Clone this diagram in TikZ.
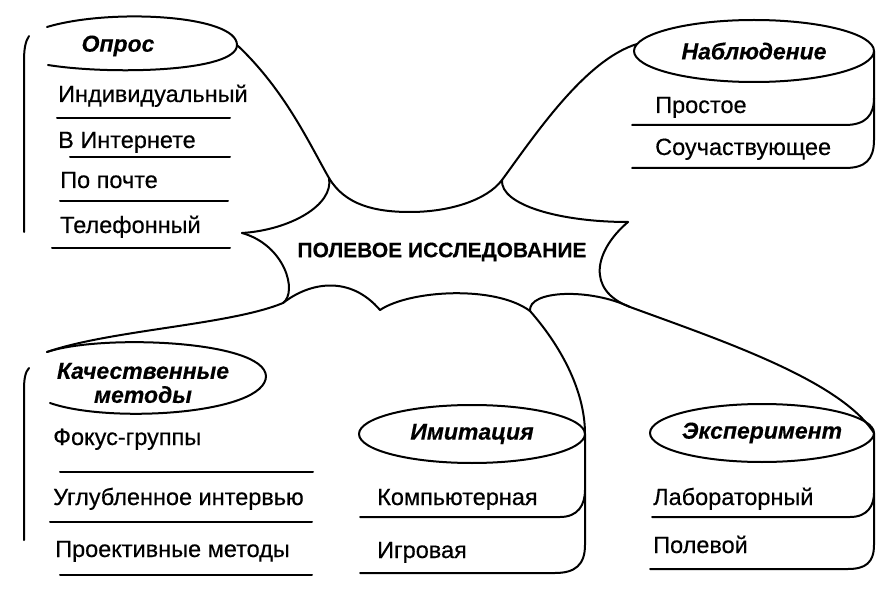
\documentclass[tikz,border=0pt]{standalone}
\usepackage{fontspec}
\setmainfont{Liberation Sans}
\newfontfamily\itemfont{Liberation Sans}[FakeBold=0.4]
\newfontfamily\ttlfont{Liberation Sans}[FakeBold=0.3]
\usetikzlibrary{shapes.geometric}
\begin{document}
\begin{tikzpicture}[x=1pt,y=-1pt,
  ln/.style={line width=2pt, line cap=round, line join=round},
  item/.style={anchor=base west, inner sep=0pt, font=\fontsize{23.5}{26}\selectfont\itemfont},
  ttl/.style={inner sep=0pt, font=\fontsize{23}{24}\selectfont\ttlfont\bfseries\itshape, align=center},
  ]
\useasboundingbox (0,0) rectangle (887,591);

% ---------- Опрос ----------
\node[ttl] (opros) at (118,46) {Опрос};
\coordinate (oprosE) at (237,45);
\draw[ln] (47,27) .. controls (110,8) and (237,15) .. (oprosE) .. controls (237,72) and (110,75) .. (48,65);
\draw[ln] (29,36) .. controls (25,42) and (24,50) .. (24,62) -- (24,232);
\node[item] (o1) at (58,102) {Индивидуальный};
\draw[ln] (57,118) -- (230,118);
\node[item] (o2) at (58,148) {В Интернете};
\draw[ln] (70,157) -- (230,157);
\node[item] (o3) at (60,188) {По почте};
\draw[ln] (60,201) -- (228,201);
\node[item] (o4) at (60,233) {Телефонный};
\draw[ln] (52,248) -- (230,248);

% ---------- Наблюдение ----------
\node[ttl] (nab) at (754,51) {Наблюдение};
\draw[ln] (nab.center) ellipse [x radius=120pt, y radius=31pt];
\coordinate (nabE) at (874,51);
\coordinate (nabW) at (637,44);
\draw[ln] (nabE) -- (874,140) .. controls (874,160) and (865,168) .. (845,168) -- (632,168);
\draw[ln] (632,125) -- (845,125) .. controls (866,125) and (874,115) .. (874,98);
\node[item] (n1) at (655,113) {Простое};
\node[item] (n2) at (655,155) {Соучаствующее};

% ---------- Качественные методы ----------
\node[ttl] (kach) at (143,383) {Качественные\\методы};
\coordinate (kachNW) at (47,352);
\coordinate (kachE) at (266,376);
\draw[ln] (kachNW) .. controls (100,334) and (264,340) .. (kachE) .. controls (266,414) and (110,424) .. (50,403);
\draw[ln] (29,368) .. controls (25,372) and (24,380) .. (24,390) -- (24,540);
\node[item] (k1) at (53,445) {Фокус-группы};
\draw[ln] (60,472) -- (313,472);
\node[item] (k2) at (53,505) {Углубленное интервью};
\draw[ln] (50,522) -- (312,522);
\node[item] (k3) at (55,557) {Проективные методы};
\draw[ln] (60,575) -- (312,575);

% ---------- Имитация ----------
\node[ttl] (imit) at (472,434) {Имитация};
\draw[ln] (imit.center) ellipse [x radius=113pt, y radius=29pt];
\coordinate (imitE) at (585,434);
\draw[ln] (imitE) -- (585,545) .. controls (585,565) and (575,573) .. (555,573) -- (360,573);
\draw[ln] (360,517) -- (560,517) .. controls (578,517) and (585,505) .. (585,490);
\node[item] (m1) at (377,505) {Компьютерная};
\node[item] (m2) at (377,558) {Игровая};

% ---------- Эксперимент ----------
\node[ttl] (eksp) at (762,433) {Эксперимент};
\draw[ln] (eksp.center) ellipse [x radius=112pt, y radius=29pt];
\coordinate (ekspE) at (874,433);
\draw[ln] (ekspE) -- (874,545) .. controls (874,563) and (865,569) .. (848,569) -- (650,569);
\draw[ln] (652,517) -- (850,517) .. controls (868,517) and (874,505) .. (874,493);
\node[item] (e1) at (653,505) {Лабораторный};
\node[item] (e2) at (653,553) {Полевой};

% ---------- Центр ----------
\node[inner sep=0pt, font=\fontsize{21}{22}\selectfont\ttlfont\bfseries] (center) at (442,252) {ПОЛЕВОЕ ИССЛЕДОВАНИЕ};

\coordinate (cUL) at (329,178);
\coordinate (cUR) at (502,180);
\coordinate (pL) at (242,233);
\coordinate (pR) at (628,222);
\coordinate (cLL) at (283,303);
\coordinate (cLM) at (380,310);
\coordinate (cLR) at (530,311);
\coordinate (jR) at (630,307);

\draw[ln] (oprosE) .. controls (285,90) and (310,145) .. (cUL) .. controls (345,205) and (375,212) .. (410,212) .. controls (450,212) and (487,200) .. (cUR) .. controls (535,135) and (585,60) .. (nabW);
\draw[ln] (cUL) .. controls (334,205) and (290,230) .. (pL);
\draw[ln] (cUR) .. controls (500,205) and (560,222) .. (pR);
\draw[ln] (pR) .. controls (595,250) and (585,290) .. (jR) .. controls (720,340) and (840,380) .. (ekspE);
\draw[ln] (pL) .. controls (285,245) and (298,292) .. (cLL) .. controls (230,325) and (110,330) .. (kachNW);
\draw[ln] (cLL) .. controls (310,282) and (350,275) .. (cLM);
\draw[ln] (cLM) .. controls (410,290) and (495,285) .. (cLR) .. controls (560,345) and (585,390) .. (imitE);
\draw[ln] (cLR) .. controls (528,290) and (590,288) .. (jR);
\end{tikzpicture}
\end{document}
